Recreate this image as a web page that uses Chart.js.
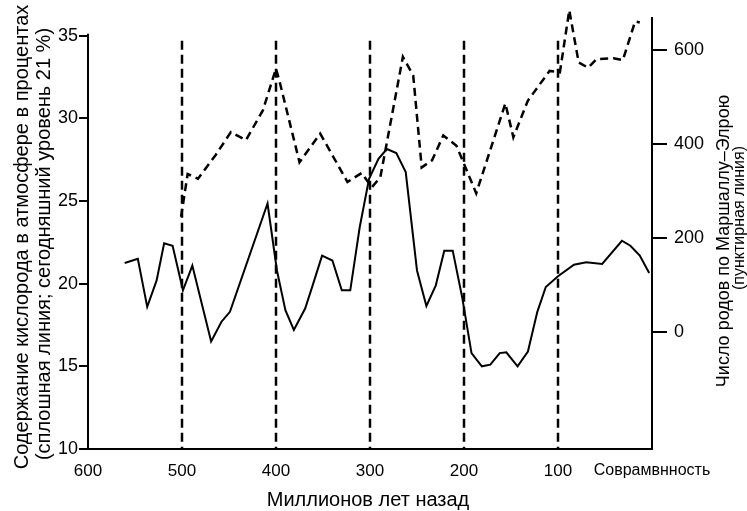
<!DOCTYPE html>
<html><head><meta charset="utf-8">
<script src="https://cdn.jsdelivr.net/npm/chart.js@4"></script>
<style>html,body{margin:0;padding:0;background:#fff;} canvas{display:block}</style>
</head><body>
<canvas id="c" width="747" height="511"></canvas>
<script>
// Oxygen content (solid line), % — by age (Ma)
const oxygenAges = [561,547,537,527,519,510,499,489,469,458,449,409,399,390,381,369,361,351,340,330,321,311,301,291,282,272,262,250,240,230,221,212,202,192,181,172,162,155,143,132,122,113,100,83,70,53,32,23,13,3];
const oxygen     = [21.25,21.5,18.6,20.2,22.45,22.3,19.6,21.1,16.5,17.7,18.3,24.85,20.8,18.4,17.2,18.5,19.9,21.7,21.4,19.6,19.6,23.4,26.35,27.55,28.15,27.9,26.75,20.8,18.65,19.9,22.0,22.0,19.2,15.8,15.0,15.1,15.8,15.85,15.0,15.9,18.3,19.8,20.45,21.15,21.3,21.2,22.6,22.3,21.7,20.65];
// Number of genera (Marshall–Elroy, dashed line)
const generaAges = [501,494,483,464,448,432,414,400,396,375,353,324,309,298,289,265,254,245,234,222,208,187,156,147.5,132,109,98,88,78,68,59,41,31,18,13];
const genera     = [245,336,326,377,425,408,471,560,531,361,422,319,338,308,329,585,545,350,365,418,396,295,486,414,492,555,552,684,573,562,580,582,578,660,658];
// Period boundaries (vertical dashed lines)
const boundaries = [500,400,300,200,100];
const xTicks = [600,500,400,300,200,100,0];
const xTickLabels = ['600','500','400','300','200','100','Соврамвнность'];
const oxygenTicks = [10,15,20,25,30,35];
const generaTicks = [0,200,400,600];
const leftTitle = ['Содержание кислорода в атмосфере в процентах','(сплошная линия; сегодняшний уровень 21 %)'];
const rightTitle = ['Число родов по Маршаллу–Элрою','(пунктирная линия)'];
const xTitle = 'Миллионов лет назад';

const FONT = '"Liberation Sans", Arial, Helvetica, sans-serif';
const ERA_TOP = 34.7;

const titles = {
  id: 'titles',
  afterDraw(chart) {
    const ctx = chart.ctx;
    ctx.save();
    ctx.fillStyle = '#000';
    function vtext(t, x, y, size) {
      ctx.save();
      ctx.translate(x, y);
      ctx.rotate(-Math.PI / 2);
      ctx.font = size + 'px ' + FONT;
      ctx.textAlign = 'center';
      ctx.textBaseline = 'alphabetic';
      ctx.fillText(t, 0, 0);
      ctx.restore();
    }
    vtext(leftTitle[0], 28, 237, 20);
    vtext(leftTitle[1], 50, 244, 20);
    vtext(rightTitle[0], 729, 241, 18);
    vtext(rightTitle[1], 744, 218, 16);
    ctx.font = '20px ' + FONT;
    ctx.textAlign = 'center';
    ctx.textBaseline = 'alphabetic';
    ctx.fillText(xTitle, 368, 506);
    // left axis line (from 35 down)
    const ys = chart.scales.y;
    const ca = chart.chartArea;
    ctx.strokeStyle = '#000';
    ctx.lineWidth = 2;
    ctx.beginPath();
    ctx.moveTo(ca.left, ys.getPixelForValue(35) - 2);
    ctx.lineTo(ca.left, ca.bottom + 1);
    ctx.stroke();
    ctx.restore();
  }
};

const datasets = [];
boundaries.forEach(b => {
  datasets.push({
    data: [{x: b, y: ERA_TOP}, {x: b, y: 10}],
    yAxisID: 'y', borderColor: '#000', borderWidth: 2.5, borderDash: [9, 5],
    pointRadius: 0, borderCapStyle: 'butt', fill: false
  });
});
datasets.push({
  data: generaAges.map((a, i) => ({x: a, y: genera[i]})),
  yAxisID: 'y2', borderColor: '#000', borderWidth: 2.5, borderDash: [8, 5],
  pointRadius: 0, tension: 0, clip: false, fill: false
});
datasets.push({
  data: oxygenAges.map((a, i) => ({x: a, y: oxygen[i]})),
  yAxisID: 'y', borderColor: '#000', borderWidth: 2,
  pointRadius: 0, tension: 0, fill: false
});

new Chart(document.getElementById('c'), {
  type: 'line',
  data: { datasets },
  plugins: [titles],
  options: {
    responsive: false,
    animation: false,
    events: [],
    layout: { padding: { top: 17, left: 0, right: 0, bottom: 0 } },
    plugins: { legend: { display: false }, tooltip: { enabled: false } },
    scales: {
      x: {
        type: 'linear', reverse: true, min: 0, max: 600,
        afterBuildTicks: s => { s.ticks = xTicks.map(v => ({value: v})); },
        afterFit: s => { s.height = 62; },
        ticks: {
          autoSkip: false, maxRotation: 0, minRotation: 0, padding: 12, color: '#000',
          callback: v => xTickLabels[xTicks.indexOf(v)],
          font: c => ({ family: FONT, size: (c.tick && c.tick.value === 0) ? 16 : 17 })
        },
        grid: { display: false, drawTicks: false },
        border: { display: true, color: '#000', width: 2 }
      },
      y: {
        type: 'linear', position: 'left', min: 10, max: 36.087,
        afterBuildTicks: s => { s.ticks = oxygenTicks.map(v => ({value: v})); },
        afterFit: s => { s.width = 88; },
        ticks: { padding: 1, color: '#000', font: { family: FONT, size: 18 } },
        grid: { drawOnChartArea: false, drawTicks: true, tickLength: 9, color: '#000', lineWidth: 2 },
        border: { display: false }
      },
      y2: {
        type: 'linear', position: 'right', min: -248.4, max: 667.9,
        afterBuildTicks: s => { s.ticks = generaTicks.map(v => ({value: v})); },
        afterFit: s => { s.width = 95; },
        ticks: { padding: 7, color: '#000', font: { family: FONT, size: 18 } },
        grid: { drawOnChartArea: false, drawTicks: true, tickLength: 15, color: '#000', lineWidth: 2 },
        border: { display: true, color: '#000', width: 2 }
      }
    }
  }
});
</script>
</body></html>
